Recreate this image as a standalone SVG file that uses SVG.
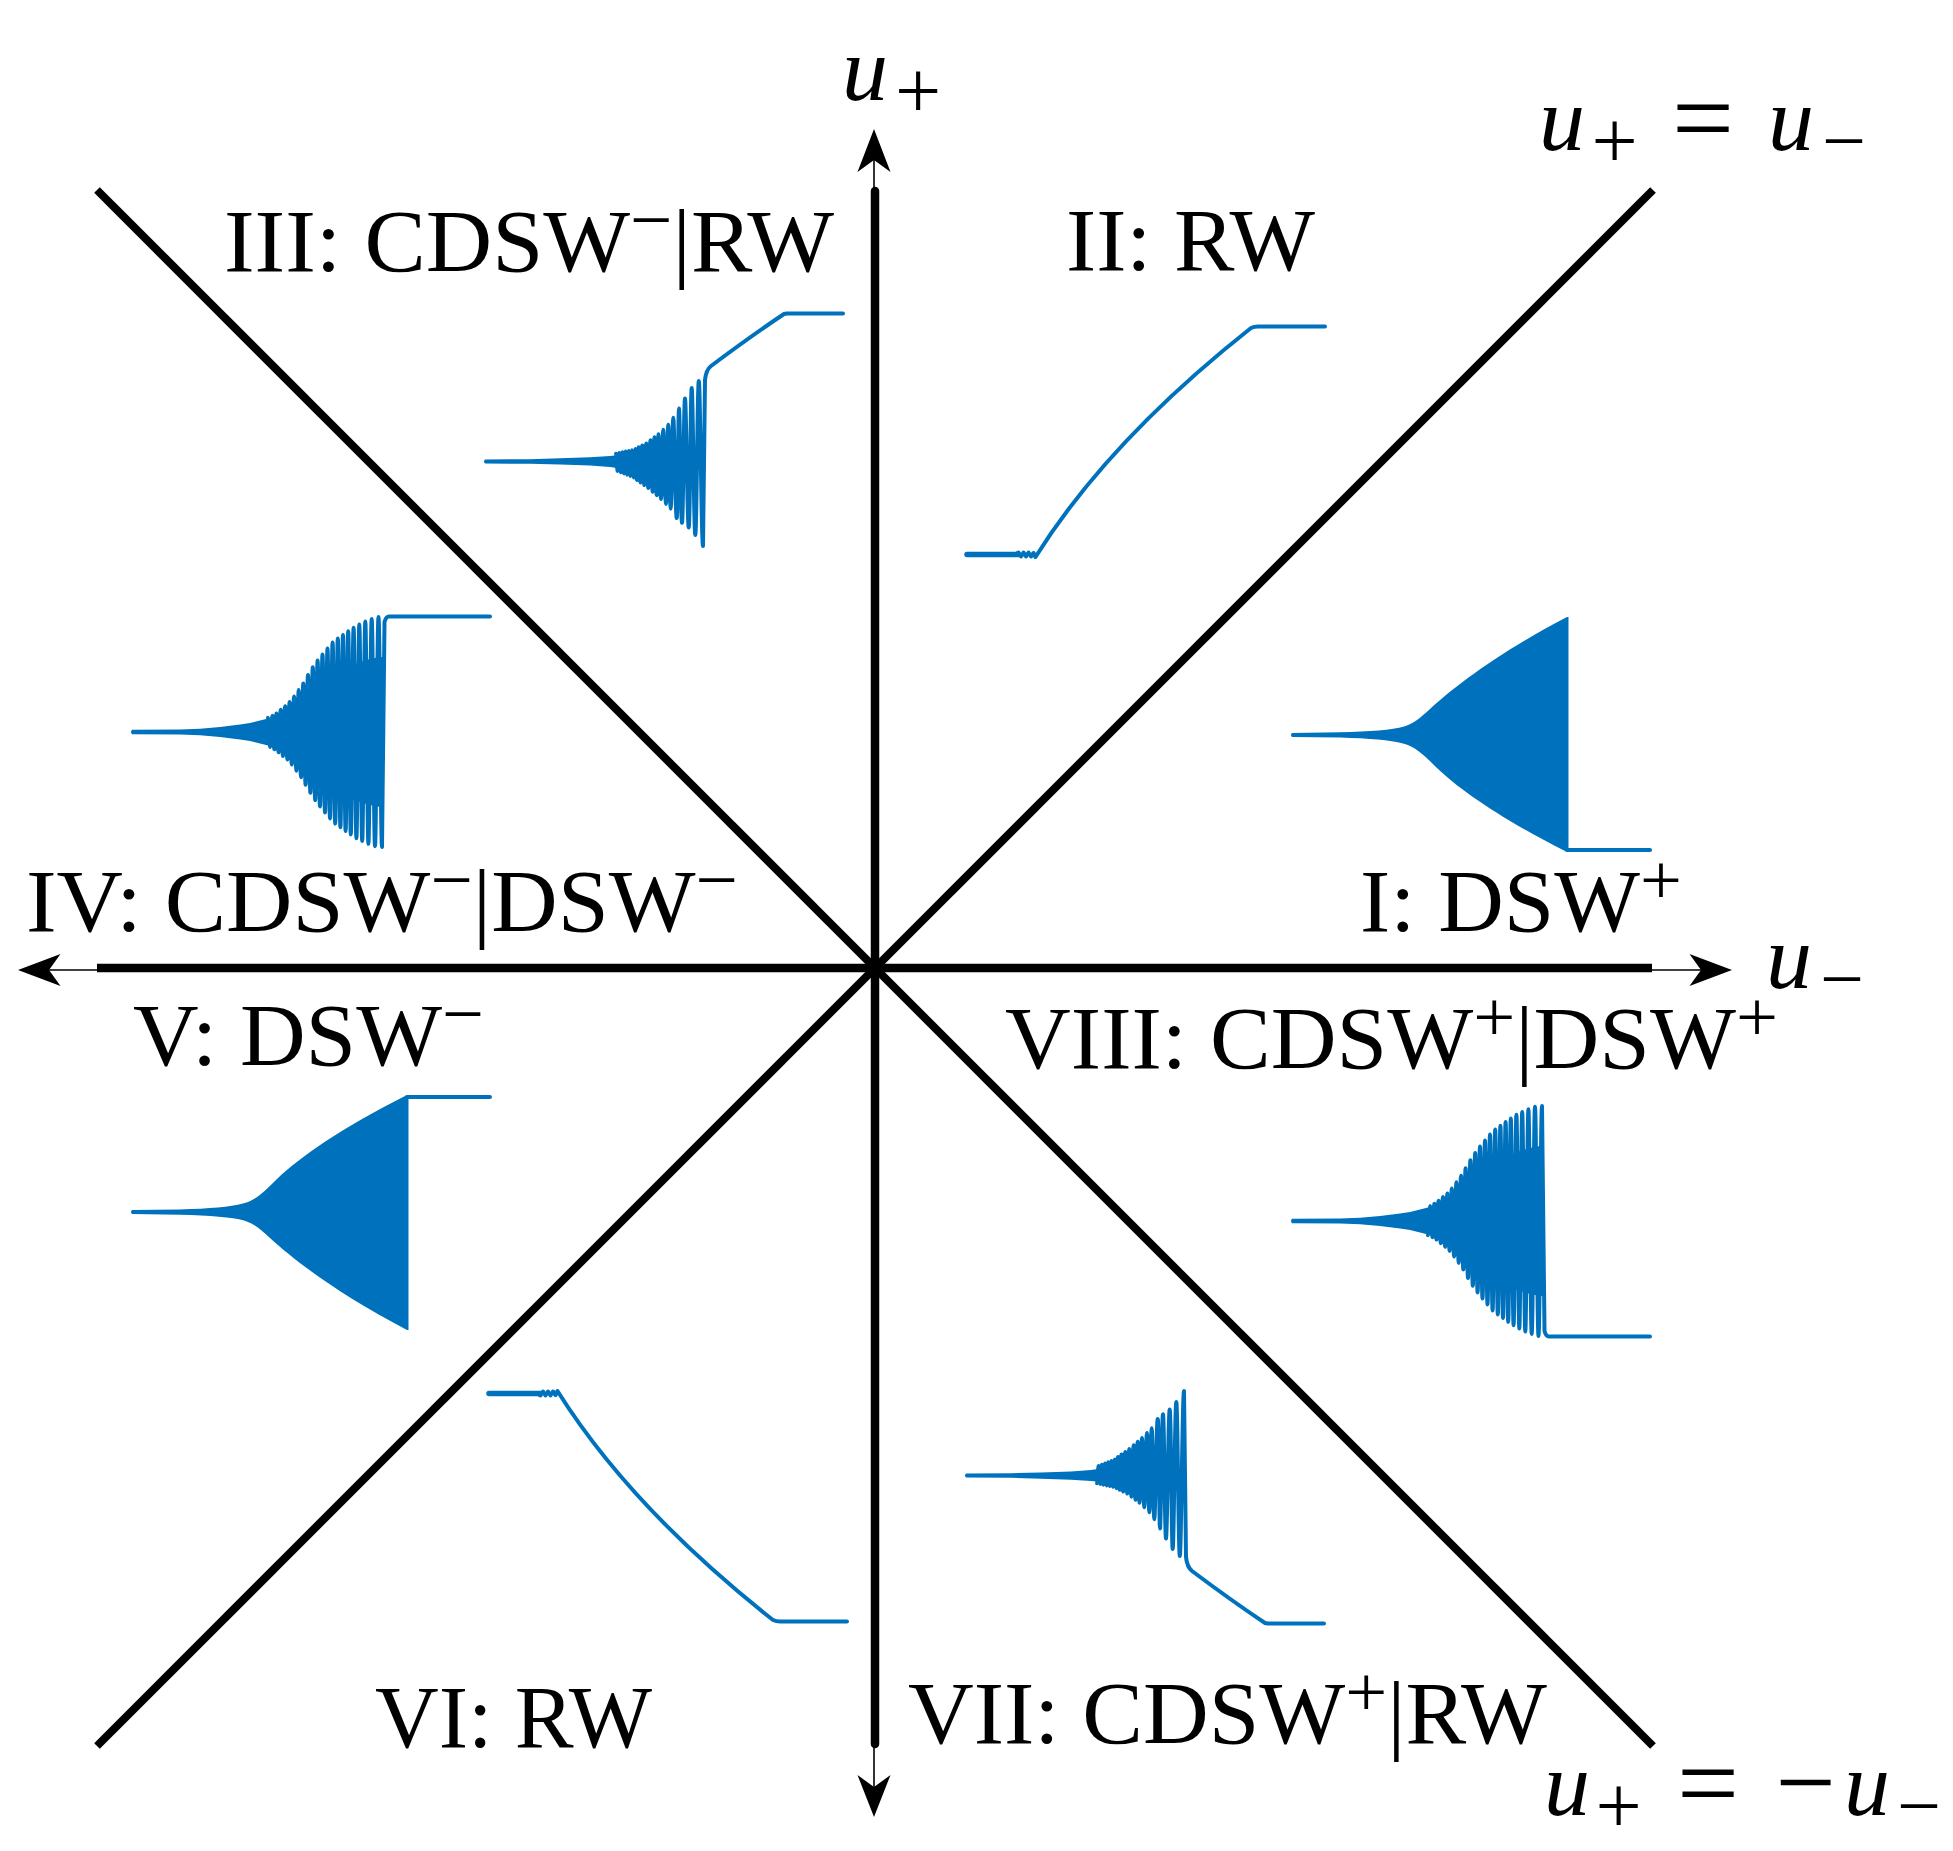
<svg xmlns="http://www.w3.org/2000/svg" width="1953" height="1851" viewBox="0 0 1953 1851">
<style>
.lbl{font-family:"Liberation Serif",serif;font-size:88px;fill:#000}
.sup{font-size:72px}
.mi{font-family:"Liberation Serif",serif;font-style:italic;font-size:92px;fill:#000}
.ms{font-family:"Liberation Serif",serif;font-size:82px;fill:#000}
.ax{stroke:#000;stroke-width:8.5;fill:none}
.diag{stroke:#000;stroke-width:8;fill:none}
.thin{stroke:#000;stroke-width:1.6;fill:none}
.head{fill:#000}
.wl{fill:none;stroke:#0072BD;stroke-width:4;stroke-linejoin:round;stroke-linecap:round}
.wf{fill:#0072BD;stroke:none}
</style>
<defs>
<g id="w-osc">
<path class="wf" d="M132,729.8 L180,729.4 L200,728.7 L220,727 L240,724.5 L250,723 L260,720.5 L268,718.5 L280,716 L290,712 L300,703.4 L310,692 L320,683 L330,676 L340,670 L350,666 L360,662 L370,659 L380,657 L383,657 L383,807 L380,807 L370,805 L360,802 L350,798 L340,794 L330,788 L320,781 L310,772 L300,760.6 L290,752 L280,748 L268,745.5 L260,743.5 L250,741 L240,739.5 L220,737 L200,735.3 L180,734.6 L132,734.2 Q130,732 132,729.8 Z"/>
<path class="wl" d="M268,717.8 C268.8,717.8 269.4,747.1 270.2,747.1 S271.5,715.8 272.3,715.8 S273.6,749.3 274.4,749.3 S275.7,713.4 276.5,713.4 S277.8,752.3 278.6,752.3 S280,709.8 280.8,709.8 S282.2,756 283,756 S284.4,706.2 285.2,706.2 S286.6,759.5 287.4,759.5 S288.8,702.1 289.6,702.1 S291,764.6 291.8,764.6 S293.3,696.5 294.1,696.5 S295.6,770.8 296.4,770.8 S297.9,690 298.7,690 S300.2,777.2 301,777.2 S302.5,683.6 303.3,683.6 S304.8,784.7 305.6,784.7 S307.1,675 308,675 S309.5,792.8 310.4,792.8 S311.9,667.3 312.8,667.3 S314.3,800.1 315.2,800.1 S316.7,660.6 317.6,660.6 S319.1,806.4 320,806.4 S321.6,654.6 322.5,654.6 S324.1,812.4 325,812.4 S326.6,648.6 327.5,648.6 S329.1,818.4 330,818.4 S331.7,642.5 332.6,642.5 S334.3,823.6 335.2,823.6 S336.9,638.6 337.8,638.6 S339.5,827.3 340.4,827.3 S342.1,634.9 343,634.9 S344.7,831 345.6,831 S347.3,631.2 348.2,631.2 S349.9,834.5 350.8,834.5 S352.6,627.7 353.6,627.7 S355.4,838.3 356.4,838.3 S358.3,624.5 359.3,624.5 S361.2,841.1 362.2,841.1 S364.2,621.4 365.3,621.4 S367.3,843.8 368.4,843.8 S370.5,619.1 371.7,619.1 S373.8,846.2 375,846.2 S377.2,617 378.5,617 S380.7,847 382,847 L384.5,622 Q386,616.5 389,616.5 L490,616.5"/>
</g>
<g id="w-cdsw">
<path class="wf" d="M485,459.5 L530,459.2 L560,458.3 L590,457.2 L610,456 L620,455 L630,454 L640,452 L650,449.5 L660,446 L670,442 L680,440 L686,445 L690,455 L690,468 L686,480 L680,485 L670,483 L660,479 L650,475.5 L640,473 L630,470.5 L620,468.5 L610,467 L590,465.5 L560,464.6 L530,463.8 L485,463.5 Q483,461.5 485,459.5 Z"/>
<path class="wl" d="M616,453.7 C616.6,453.7 617,471 617.6,471 S618.6,453 619.2,453 S620.2,472.2 620.8,472.2 S621.8,452.3 622.4,452.3 S623.4,473.5 624,473.5 S625,451.6 625.6,451.6 S626.6,474.7 627.2,474.7 S628.2,450.9 628.8,450.9 S629.8,476 630.4,476 S631.4,450.2 632,450.2 S633.1,477.5 633.7,477.5 S634.7,448.9 635.3,448.9 S636.4,479.9 637,479.9 S638.1,447.2 638.7,447.2 S639.85,482.4 640.5,482.4 S641.65,445.4 642.3,445.4 S643.6,485 644.3,485 S645.6,443.4 646.3,443.4 S647.6,488.1 648.3,488.1 S649.7,440.3 650.5,440.3 S651.9,491.8 652.7,491.8 S653.85,437.2 654.5,437.2 S655.9,495.2 656.7,495.2 S657.85,434.2 658.5,434.2 S660.1,499 661,499 S662.5,429.7 663.3,429.7 S665,504 666,504 S667.5,424.7 668.3,424.7 S669.85,508.7 670.7,508.7 S672.4,417.7 673.3,417.7 S675.5,518 676.7,518 S678.2,408.6 679,408.6 S680.9,522.8 682,522.8 S683.9,398.5 685,398.5 S687.4,527.5 688.7,527.5 S690.6,388 691.7,388 S694,535 695.3,535 S697.5,381 698.8,381 S701.5,546 703,546 L705,380 Q706,370 711,366 C735,348 760,330 784,314 L787,313.5 L843,313.5"/>
</g>
<g id="w-rw">
<path class="wl" style="stroke-width:5.5" d="M967,554.5 L1018,554.5"/>
<path class="wl" d="M1016,554 L1018.5,552.5 L1021,556.5 L1023.5,552.5 L1026,556.5 L1028.5,552.5 L1031,556.5 L1033.5,553 L1035.5,557 C1090,470 1170,392 1251,328 Q1254,326.5 1258,326.5 L1325,326.5"/>
</g>
<g id="w-dsw">
<path class="wf" d="M1292,733 L1340,732.3 C1370,731.5 1392,730 1404,726.5 C1414,723.5 1420,718 1430,709 C1455,686 1500,652 1567,617 L1568.5,617 L1568.5,851.5 L1566,851.5 C1500,818 1460,790 1437,768 C1424,755 1416,747 1403,743.5 C1390,740 1370,738.5 1340,737.5 L1292,737 Q1290,735 1292,733 Z"/>
<path class="wl" d="M1567,850 L1650,850"/>
</g>
</defs>

<g id="connectors">
<line class="diag" x1="97" y1="190" x2="1653" y2="1746"/>
<line class="diag" x1="97" y1="1746" x2="1653" y2="190"/>
<line class="ax" x1="97" y1="968" x2="1652" y2="968"/>
<line class="ax" x1="875" y1="191" x2="875" y2="1744" stroke-linecap="round"/>
<line class="thin" x1="874" y1="160" x2="874" y2="192"/>
<line class="thin" x1="874" y1="1744" x2="874" y2="1788"/>
<line class="thin" x1="49" y1="970" x2="98" y2="970"/>
<line class="thin" x1="1650" y1="970" x2="1701" y2="970"/>
<path class="head" d="M874,129 L890.5,172 L874,160 L857.5,172 Z"/>
<path class="head" d="M874,1817 L890.5,1775 L874,1787 L857.5,1775 Z"/>
<path class="head" d="M18,970 L60.5,954 L49,970 L60.5,986 Z"/>
<path class="head" d="M1732,970 L1689.5,954 L1701,970 L1689.5,986 Z"/>
</g>

<g id="axis-u-plus">
<text class="mi" x="842" y="100">u</text><text class="ms" x="895" y="118">+</text>
</g>
<g id="axis-u-minus">
<text class="mi" x="1766" y="988">u</text><text class="ms" x="1820" y="1005" style="font-size:78px">−</text>
</g>
<g id="line-eq">
<text class="mi" x="1539" y="150">u</text><text class="ms" x="1591.5" y="168">+</text>
<text class="ms" x="1672" y="155" style="font-size:110px">=</text>
<text class="mi" x="1768" y="150">u</text><text class="ms" x="1822" y="167" style="font-size:78px">−</text>
</g>
<g id="line-neg">
<text class="mi" x="1544" y="1815">u</text><text class="ms" x="1595.5" y="1833">+</text>
<text class="ms" x="1677" y="1820" style="font-size:110px">=</text>
<text class="ms" x="1775.5" y="1818" style="font-size:107px">−</text>
<text class="mi" x="1844" y="1815">u</text><text class="ms" x="1897" y="1832" style="font-size:78px">−</text>
</g>

<g id="region-I">
<text class="lbl" x="1360" y="931" textLength="322" lengthAdjust="spacingAndGlyphs">I: DSW<tspan class="sup" dy="-27">+</tspan></text>
<use href="#w-dsw"/>
</g>
<g id="region-II">
<text class="lbl" x="1066" y="270" textLength="249" lengthAdjust="spacingAndGlyphs">II: RW</text>
<use href="#w-rw"/>
</g>
<g id="region-III">
<text class="lbl" x="224" y="271" textLength="610" lengthAdjust="spacingAndGlyphs">III: CDSW<tspan class="sup" dy="-27">−</tspan><tspan dy="27">|RW</tspan></text>
<use href="#w-cdsw"/>
</g>
<g id="region-IV">
<text class="lbl" x="26" y="931" textLength="712" lengthAdjust="spacingAndGlyphs">IV: CDSW<tspan class="sup" dy="-27">−</tspan><tspan dy="27">|DSW</tspan><tspan class="sup" dy="-27">−</tspan></text>
<use href="#w-osc"/>
</g>
<g id="region-V">
<text class="lbl" x="133" y="1065" textLength="351" lengthAdjust="spacingAndGlyphs">V: DSW<tspan class="sup" dy="-27">−</tspan></text>
<use href="#w-dsw" transform="translate(-1160,1947) scale(1,-1)"/>
</g>
<g id="region-VI">
<text class="lbl" x="375" y="1747" textLength="277" lengthAdjust="spacingAndGlyphs">VI: RW</text>
<use href="#w-rw" transform="translate(-478,1948) scale(1,-1)"/>
</g>
<g id="region-VII">
<text class="lbl" x="908" y="1743" textLength="639" lengthAdjust="spacingAndGlyphs">VII: CDSW<tspan class="sup" dy="-27">+</tspan><tspan dy="27">|RW</tspan></text>
<use href="#w-cdsw" transform="translate(481,1937) scale(1,-1)"/>
</g>
<g id="region-VIII">
<text class="lbl" x="1005" y="1068" textLength="773" lengthAdjust="spacingAndGlyphs">VIII: CDSW<tspan class="sup" dy="-27">+</tspan><tspan dy="27">|DSW</tspan><tspan class="sup" dy="-27">+</tspan></text>
<use href="#w-osc" transform="translate(1160,1953) scale(1,-1)"/>
</g>
</svg>
